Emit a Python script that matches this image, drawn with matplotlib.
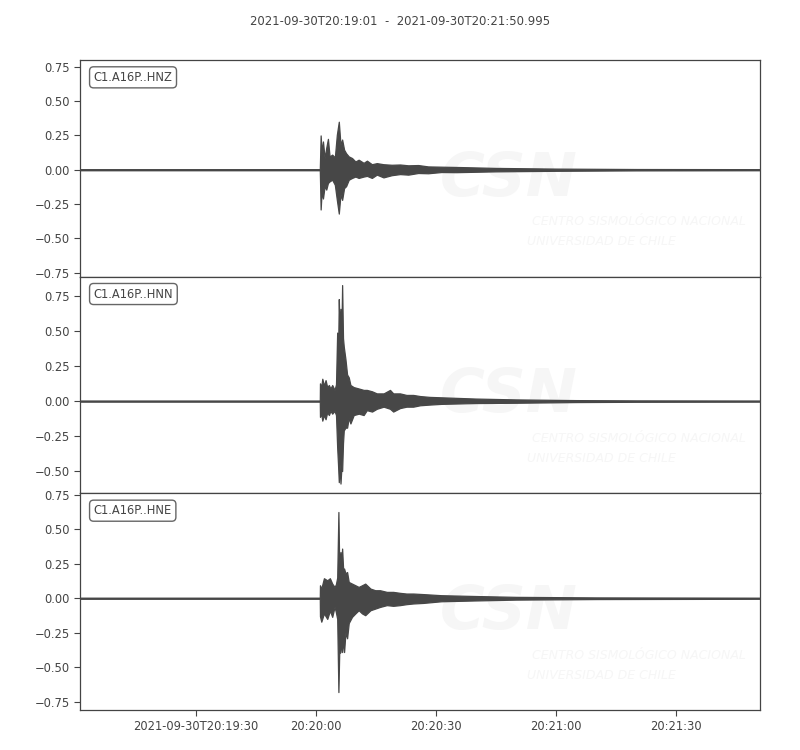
import numpy as np
import matplotlib
matplotlib.use("Agg")
import matplotlib.pyplot as plt
import matplotlib.dates as mdates
from matplotlib.ticker import MultipleLocator, FuncFormatter

# Datos (envolvente de cada componente)
# tiempos en segundos relativos a 20:20:00
t_start = np.datetime64("2021-09-30T20:19:01.000")
t_end = np.datetime64("2021-09-30T20:21:50.995")
t_ref = np.datetime64("2021-09-30T20:20:00.000")

labels = ["C1.A16P..HNZ", "C1.A16P..HNN", "C1.A16P..HNE"]

hnz_t = [-59, 0.95, 1.16, 1.41, 1.74, 2.15, 2.56, 2.98, 3.39, 4.05, 4.71, 5.21, 5.70, 6.12,
         6.53, 7.02, 7.52, 8.18, 9.01, 9.84, 10.66, 11.9, 12.73, 13.97, 15.2, 16.86, 18.93,
         21.0, 23.06, 25.54, 28.02, 31.33, 35.04, 45, 60, 80, 111]
hnz_up = [0.004, 0.004, 0.25, 0.13, 0.206, 0.085, 0.16, 0.225, 0.097, 0.11, 0.09, 0.255,
          0.35, 0.182, 0.22, 0.146, 0.12, 0.097, 0.085, 0.06, 0.073, 0.05, 0.066, 0.04,
          0.048, 0.04, 0.036, 0.038, 0.032, 0.034, 0.024, 0.022, 0.02, 0.013, 0.008, 0.005,
          0.004]
hnz_lo = [-0.004, -0.004, -0.29, -0.16, -0.21, -0.12, -0.145, -0.097, -0.085, -0.073, -0.11,
          -0.22, -0.32, -0.18, -0.22, -0.134, -0.12, -0.073, -0.06, -0.05, -0.06, -0.05,
          -0.045, -0.06, -0.036, -0.056, -0.04, -0.032, -0.036, -0.024, -0.026, -0.017,
          -0.018, -0.012, -0.008, -0.005, -0.004]

hnn_t = [-59, 0.95, 0.99, 1.3, 1.57, 2.0, 2.39, 2.8, 3.22, 3.6, 4.05, 4.63, 5.0, 5.29, 5.5,
         5.7, 5.9, 6.12, 6.3, 6.53, 6.75, 6.94, 7.36, 7.77, 8.18, 8.6, 9.42, 10.7, 11.9,
         12.7, 14.0, 15.2, 16.9, 18.5, 19.3, 21.0, 22.6, 24.3, 26.0, 28.4, 31.3, 40, 50, 65,
         80, 111]
hnn_up = [0.004, 0.004, 0.127, 0.10, 0.16, 0.11, 0.15, 0.10, 0.115, 0.09, 0.115, 0.08, 0.12,
          0.49, 0.30, 0.73, 0.50, 0.66, 0.40, 0.83, 0.45, 0.39, 0.30, 0.19, 0.17, 0.115,
          0.10, 0.09, 0.08, 0.08, 0.07, 0.055, 0.055, 0.08, 0.055, 0.055, 0.044, 0.044,
          0.036, 0.03, 0.027, 0.018, 0.012, 0.007, 0.005, 0.004]
hnn_lo = [-0.004, -0.004, -0.113, -0.09, -0.14, -0.10, -0.13, -0.08, -0.10, -0.07, -0.09,
          -0.07, -0.10, -0.33, -0.45, -0.58, -0.45, -0.59, -0.50, -0.50, -0.30, -0.21, -0.19,
          -0.19, -0.12, -0.16, -0.10, -0.09, -0.10, -0.065, -0.075, -0.055, -0.04, -0.055,
          -0.075, -0.05, -0.04, -0.04, -0.03, -0.025, -0.02, -0.014, -0.012, -0.007, -0.005,
          -0.004]

hne_t = [-59, 0.95, 0.99, 1.32, 1.98, 2.81, 3.47, 4.05, 4.63, 4.96, 5.3, 5.6, 5.8, 6.12, 6.3,
         6.53, 6.8, 7.02, 7.36, 7.77, 8.18, 9.0, 9.84, 10.66, 11.5, 12.3, 13.6, 14.8, 16.0,
         17.7, 19.3, 21.0, 22.6, 24.3, 26.8, 31.3, 40, 50, 70, 111]
hne_up = [0.004, 0.004, 0.094, 0.07, 0.145, 0.13, 0.145, 0.106, 0.082, 0.10, 0.15, 0.625,
          0.25, 0.335, 0.25, 0.36, 0.20, 0.215, 0.18, 0.19, 0.118, 0.106, 0.094, 0.082,
          0.094, 0.106, 0.07, 0.058, 0.058, 0.046, 0.046, 0.039, 0.034, 0.034, 0.03, 0.022,
          0.016, 0.01, 0.006, 0.004]
hne_lo = [-0.004, -0.004, -0.13, -0.17, -0.11, -0.15, -0.09, -0.135, -0.063, -0.10, -0.15,
          -0.68, -0.40, -0.39, -0.30, -0.39, -0.30, -0.39, -0.25, -0.29, -0.18, -0.135, -0.11,
          -0.087, -0.11, -0.123, -0.087, -0.075, -0.063, -0.05, -0.055, -0.05, -0.043,
          -0.038, -0.034, -0.022, -0.016, -0.01, -0.006, -0.004]

ylims = [(-0.78, 0.80), (-0.66, 0.89), (-0.81, 0.76)]

traces = [(hnz_t, hnz_up, hnz_lo), (hnn_t, hnn_up, hnn_lo), (hne_t, hne_up, hne_lo)]

wave_color = "#474747"
text_color = "#444444"
wm_color = "#f6f6f6"
plt.rcParams["font.family"] = ["DejaVu Sans"]
plt.rcParams["font.size"] = 8.3

fig, axes = plt.subplots(3, 1, figsize=(8, 7.5), dpi=100, sharex=True)
fig.subplots_adjust(left=0.1, right=0.95, top=0.92, bottom=0.0533, hspace=0)

first_tick = np.datetime64("2021-09-30T20:19:30")


def fmt_time(x, pos):
    d = mdates.num2date(x)
    if abs(x - mdates.date2num(first_tick)) < 1e-7:
        return d.strftime("%Y-%m-%dT%H:%M:%S")
    return d.strftime("%H:%M:%S")


for ax, (tt, up, lo), lab, yl in zip(axes, traces, labels, ylims):
    times = t_ref + (np.array(tt) * 1000).astype("timedelta64[ms]")
    ax.fill_between(times, lo, up, color=wave_color, edgecolor=wave_color, linewidth=0.9, zorder=3)

    # marca de agua CSN (muy tenue)
    ax.text(0.63, 0.45, "CSN", transform=ax.transAxes, ha="center", va="center",
            fontsize=44, fontweight="bold", fontstyle="italic", color=wm_color, zorder=1)
    ax.text(0.665, 0.253, "CENTRO SISMOLÓGICO NACIONAL", transform=ax.transAxes,
            ha="left", va="center", fontsize=9, fontstyle="italic", color=wm_color, zorder=1)
    ax.text(0.658, 0.161, "UNIVERSIDAD DE CHILE", transform=ax.transAxes,
            ha="left", va="center", fontsize=9, fontstyle="italic", color=wm_color, zorder=1)

    ax.text(0.02, 0.95, lab, transform=ax.transAxes, ha="left", va="top", fontsize=8.3,
            color=text_color, zorder=5,
            bbox=dict(boxstyle="round,pad=0.35", fc="white", ec="#555555", alpha=0.9))

    ax.set_ylim(*yl)
    ax.yaxis.set_major_locator(MultipleLocator(0.25))
    ax.yaxis.set_major_formatter(FuncFormatter(lambda v, p: f"{v:.2f}".replace("-", "\u2212")))
    ax.tick_params(axis="y", colors=text_color, labelsize=8.3, length=4, direction="out")
    ax.tick_params(axis="x", colors=text_color, labelsize=8.3, length=4, direction="out")
    for sp in ax.spines.values():
        sp.set_color("#444444")
        sp.set_linewidth(0.9)

for ax in axes[:2]:
    ax.tick_params(axis="x", bottom=False, labelbottom=False)

axes[-1].set_xlim(t_start, t_end)
axes[-1].xaxis.set_major_locator(mdates.SecondLocator(bysecond=[0, 30]))
axes[-1].xaxis.set_major_formatter(FuncFormatter(fmt_time))

fig.suptitle("2021-09-30T20:19:01  -  2021-09-30T20:21:50.995", y=0.98, fontsize=8.4,
             color=text_color)

fig.savefig("out.png", dpi=100)
